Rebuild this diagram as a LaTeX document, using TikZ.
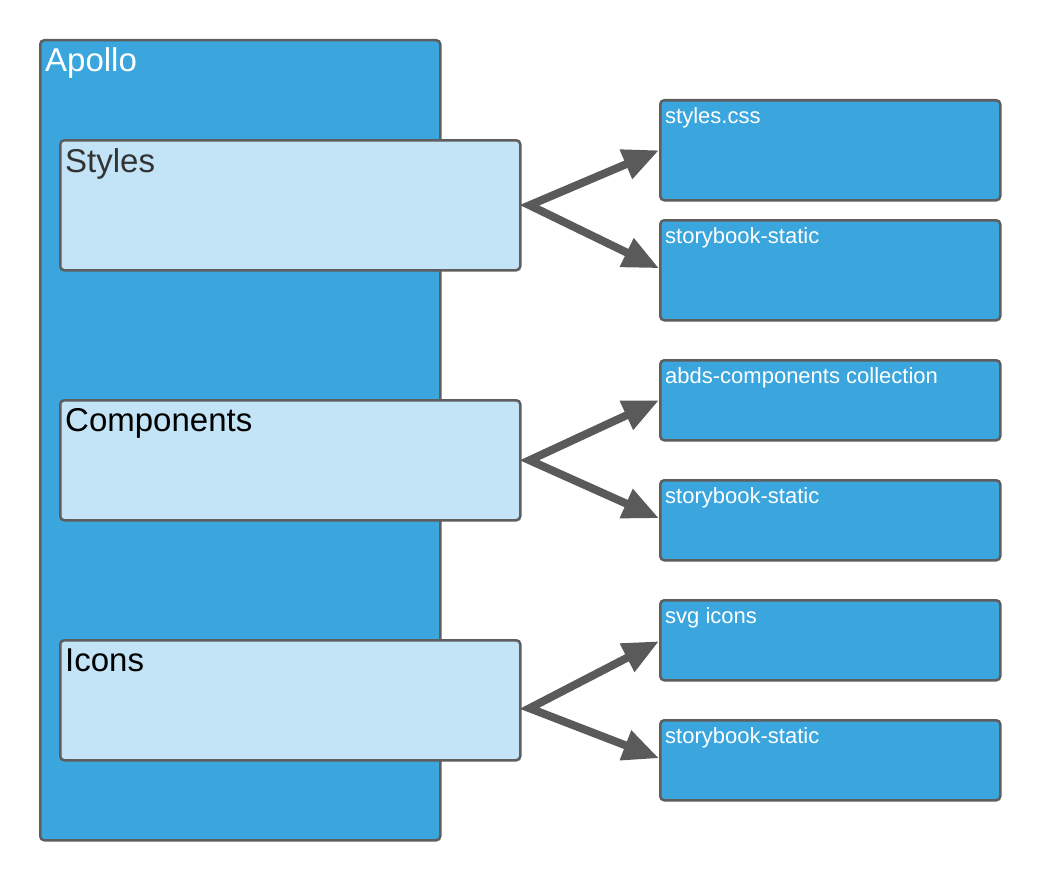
\documentclass[tikz,border=0pt]{standalone}
\usepackage{fontspec}
\setmainfont{Liberation Sans}
\usetikzlibrary{arrows.meta}

\definecolor{apolloblue}{HTML}{3AA6DD}
\definecolor{paleblue}{HTML}{C2E4F6}
\definecolor{edgegray}{HTML}{5E5E5E}
\definecolor{arrowgray}{HTML}{5A5A5A}

\begin{document}
\begin{tikzpicture}[x=1pt, y=-1pt,
    box/.style={draw=edgegray, line width=2.5pt, rounded corners=4pt, anchor=north west, inner sep=0pt},
    outbox/.style={box, fill=apolloblue, minimum width=340pt},
    partbox/.style={box, fill=paleblue, minimum width=460pt},
    bigtext/.style={anchor=base west, inner sep=0pt, font=\fontsize{33}{39}\selectfont},
    smalltext/.style={anchor=base west, inner sep=0pt, text=white, font=\fontsize{22}{26}\selectfont},
    conn/.style={draw=arrowgray, line width=8pt, miter limit=20, {Triangle[length=36pt, width=30pt]}-{Triangle[length=36pt, width=30pt]}}]
    \useasboundingbox (1,1) rectangle (1041,881);

    % Apollo container
    \node[box, fill=apolloblue, minimum width=400pt, minimum height=800pt] (apollo) at (40,40) {};
    \node[bigtext, text=white] (apolloT) at ([shift={(6,33)}]apollo.north west) {Apollo};

    % the three parts
    \node[partbox, minimum height=130pt] (sty) at (60,140) {};
    \node[bigtext, text=black!80] (styT) at ([shift={(6,33)}]sty.north west) {Styles};
    \node[partbox, minimum height=120pt] (comp) at (60,400) {};
    \node[bigtext, text=black] (compT) at ([shift={(6,32)}]comp.north west) {Components};
    \node[partbox, minimum height=120pt] (ico) at (60,640) {};
    \node[bigtext, text=black] (icoT) at ([shift={(6,32)}]ico.north west) {Icons};

    % outputs
    \node[outbox, minimum height=100pt] (css) at (660,100) {};
    \node[smalltext] (cssT) at ([shift={(6,24)}]css.north west) {styles.css};
    \node[outbox, minimum height=100pt] (sbA) at (660,220) {};
    \node[smalltext] (sbAT) at ([shift={(6,24)}]sbA.north west) {storybook-static};
    \node[outbox, minimum height=80pt] (abds) at (660,360) {};
    \node[smalltext] (abdsT) at ([shift={(6,24)}]abds.north west) {abds-components collection};
    \node[outbox, minimum height=80pt] (sbB) at (660,480) {};
    \node[smalltext] (sbBT) at ([shift={(6,24)}]sbB.north west) {storybook-static};
    \node[outbox, minimum height=80pt] (svg) at (660,600) {};
    \node[smalltext] (svgT) at ([shift={(6,24)}]svg.north west) {svg icons};
    \node[outbox, minimum height=80pt] (sbC) at (660,720) {};
    \node[smalltext] (sbCT) at ([shift={(6,24)}]sbC.north west) {storybook-static};

    % arrows
    \coordinate (styO) at ([shift={(8,0)}]sty.east);
    \coordinate (compO) at ([shift={(8,0)}]comp.east);
    \coordinate (icoO) at ([shift={(8,8)}]ico.east);
    \draw[conn] ([shift={(0,0)}]css.west) -- (styO) -- ([shift={(0,-2)}]sbA.west);
    \draw[conn] ([shift={(0,0)}]abds.west) -- (compO) -- ([shift={(0,-2)}]sbB.west);
    \draw[conn] ([shift={(0,1)}]svg.west) -- (icoO) -- ([shift={(0,-2)}]sbC.west);
\end{tikzpicture}
\end{document}
